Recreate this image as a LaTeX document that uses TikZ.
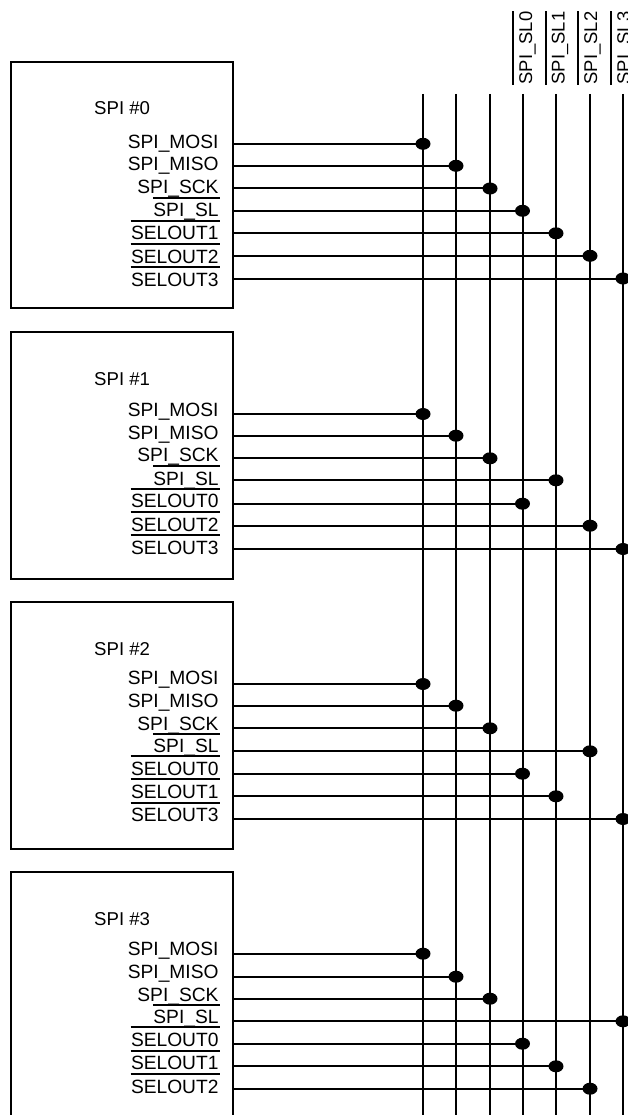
\documentclass[tikz,border=0pt]{standalone}
\usepackage{fontspec}
\setmainfont{Liberation Sans}
\usetikzlibrary{shapes.geometric}
\newcommand{\barred}[1]{\setbox0=\hbox{#1}\rlap{\hskip-0.5pt\rule[18pt]{\dimexpr\wd0+1.5pt\relax}{1.9pt}}\box0 }
\tikzset{
  wire/.style={draw=black,line width=2pt},
  chip/.style={draw=black,line width=2pt,rectangle,inner sep=0pt,outer sep=0pt,anchor=north west,minimum width=222pt},
  dot/.style={ellipse,fill=black,inner sep=0pt,minimum width=15pt,minimum height=12pt},
  txt/.style={inner sep=0pt,text=black},
  sig/.style={txt,font=\fontsize{19.2}{21}\selectfont,anchor=base east},
  title/.style={txt,font=\fontsize{18.6}{20}\selectfont,anchor=base west},
  buslabel/.style={txt,font=\fontsize{18.4}{20}\selectfont,rotate=90,anchor=base west}
}
% box, index, bus, row y, baseline y, text
\newcommand{\sigline}[6]{%
  \node[dot] (#1d#2) at (#3 |- 0,#4) {};
  \draw[wire] (#1.east |- #1d#2) -- (#1d#2.center);
  \node[sig] (#1t#2) at (218.7,#5) {#6};
}
\begin{document}
\begin{tikzpicture}[x=1pt,y=-1pt]
\useasboundingbox (0,0) rectangle (627,1115);
% bus ends
\foreach \n/\x in {a/423,b/456,c/490,d/522.5,e/556,f/590,g/623}{
  \coordinate (top\n) at (\x,94);
  \coordinate (end\n) at (\x,1115);
  \draw[wire] (top\n) -- (end\n);
}
% bus labels
\node[buslabel] (ls0) at (532,84.5) {\barred{SPI\_SL0}};
\node[buslabel] (ls1) at (564.5,84.5) {\barred{SPI\_SL1}};
\node[buslabel] (ls2) at (597,84.5) {\barred{SPI\_SL2}};
\node[buslabel] (ls3) at (630,84.5) {\barred{SPI\_SL3}};
% SPI 0
\node[chip,minimum height=246.3pt] (p) at (10.5,62) {};
\node[title] (pn) at (94,114.3) {SPI \#0};
\sigline{p}{1}{topa}{143.8}{148.3}{SPI\_MOSI}
\sigline{p}{2}{topb}{165.8}{170.7}{SPI\_MISO}
\sigline{p}{3}{topc}{188.5}{193.3}{SPI\_SCK}
\sigline{p}{4}{topd}{210.8}{216.7}{\barred{SPI\_SL}}
\sigline{p}{5}{tope}{233.3}{240}{\barred{SELOUT1}}
\sigline{p}{6}{topf}{255.8}{263.3}{\barred{SELOUT2}}
\sigline{p}{7}{topg}{278.5}{286}{\barred{SELOUT3}}
% SPI 1
\node[chip,minimum height=246.7pt] (q) at (10.5,332.3) {};
\node[title] (qn) at (94,385) {SPI \#1};
\sigline{q}{1}{topa}{414}{416.7}{SPI\_MOSI}
\sigline{q}{2}{topb}{435.7}{439.3}{SPI\_MISO}
\sigline{q}{3}{topc}{458.3}{461.7}{SPI\_SCK}
\sigline{q}{4}{tope}{480.3}{485}{\barred{SPI\_SL}}
\sigline{q}{5}{topd}{503.7}{507.7}{\barred{SELOUT0}}
\sigline{q}{6}{topf}{525.7}{531}{\barred{SELOUT2}}
\sigline{q}{7}{topg}{549}{554}{\barred{SELOUT3}}
% SPI 2
\node[chip,minimum height=246.7pt] (r) at (10.5,602.3) {};
\node[title] (rn) at (94,655) {SPI \#2};
\sigline{r}{1}{topa}{684}{684.3}{SPI\_MOSI}
\sigline{r}{2}{topb}{705.7}{707.3}{SPI\_MISO}
\sigline{r}{3}{topc}{728.3}{730}{SPI\_SCK}
\sigline{r}{4}{topf}{751.3}{752.7}{\barred{SPI\_SL}}
\sigline{r}{5}{topd}{773.7}{775.3}{\barred{SELOUT0}}
\sigline{r}{6}{tope}{796.3}{798.3}{\barred{SELOUT1}}
\sigline{r}{7}{topg}{819}{821.7}{\barred{SELOUT3}}
% SPI 3
\node[chip,minimum height=260pt] (s) at (10.5,871.7) {};
\node[title] (sn) at (94,925) {SPI \#3};
\sigline{s}{1}{topa}{953.7}{955}{SPI\_MOSI}
\sigline{s}{2}{topb}{976.7}{978.3}{SPI\_MISO}
\sigline{s}{3}{topc}{998.7}{1001}{SPI\_SCK}
\sigline{s}{4}{topg}{1021.3}{1023.7}{\barred{SPI\_SL}}
\sigline{s}{5}{topd}{1043.7}{1046.3}{\barred{SELOUT0}}
\sigline{s}{6}{tope}{1066.3}{1069.7}{\barred{SELOUT1}}
\sigline{s}{7}{topf}{1088.7}{1093}{\barred{SELOUT2}}
\end{tikzpicture}
\end{document}
